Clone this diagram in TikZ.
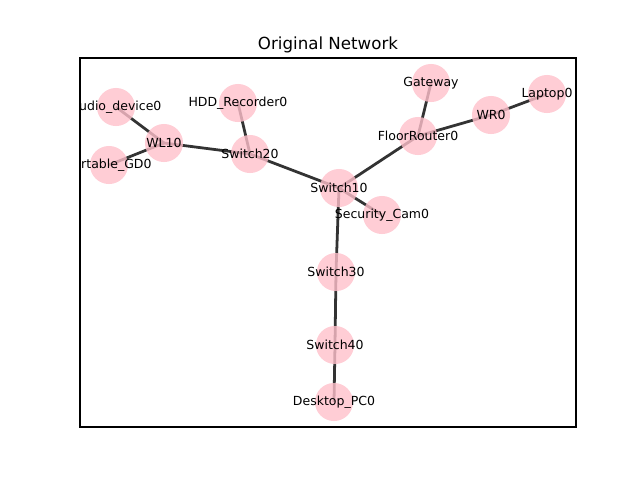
\documentclass[tikz,border=0pt]{standalone}
\usepackage{fontspec}
\setmainfont{DejaVu Sans}
\usepackage{tikz}
\usetikzlibrary{positioning,calc}

\definecolor{devpink}{RGB}{255,192,203}
\tikzset{
  dev/.style={circle, fill=devpink, fill opacity=0.8, minimum size=27.4pt, inner sep=0pt},
  devlabel/.style={inner sep=0pt, font=\fontsize{9}{11}\selectfont},
  link/.style={draw=black!80, line width=2pt}
}

\begin{document}
\begin{tikzpicture}[x=0.72pt, y=-0.72pt]
    \useasboundingbox (0,0) rectangle (640,480);
    % device positions (pixels from top left)
    \foreach \n/\x/\y in {aud/116/107,wl/164/143,ptb/109/165,hdd/238/103,swb/250/154,
      swa/339/188,cam/382/215,flr/418/136,gw/431/83,wr/491/115,lap/547/94,
      swc/336/272,swd/335/345,pc/334/402}
      \coordinate (\n) at (\x,\y);
    % links
    \foreach \a/\b in {aud/wl,ptb/wl,wl/swb,hdd/swb,swb/swa,swa/cam,swa/flr,
      flr/gw,flr/wr,wr/lap,swa/swc,swc/swd,swd/pc}
      \draw [link] (\a) -- (\b);
    \foreach \n in {aud,wl,ptb,hdd,swb,swa,cam,flr,gw,wr,lap,swc,swd,pc}
      \node [dev] (n-\n) at (\n) {};
    \begin{scope}
      \clip (80,58) rectangle (576,427);
      \foreach \n/\t in {aud/Audio\_device0,wl/WL10,ptb/Portable\_GD0,hdd/HDD\_Recorder0,
        swb/Switch20,swa/Switch10,cam/Security\_Cam0,flr/FloorRouter0,gw/Gateway,
        wr/WR0,lap/Laptop0,swc/Switch30,swd/Switch40,pc/Desktop\_PC0}
        \node [devlabel] (t-\n) at (n-\n) {\t};
    \end{scope}
    \draw [line width=0.8pt] (80,58) rectangle (576,427);
    \node [font=\fontsize{12}{14}\selectfont, anchor=base] (title) at (328,49) {Original Network};
  \end{tikzpicture}
\end{document}
